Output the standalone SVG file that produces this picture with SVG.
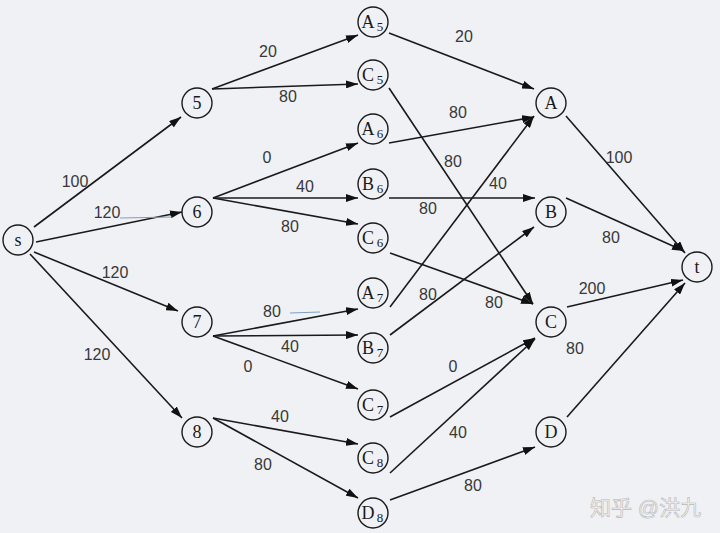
<svg xmlns="http://www.w3.org/2000/svg" width="720" height="533" viewBox="0 0 720 533">
<defs>
<marker id="arr" viewBox="0 0 12 8" refX="12" refY="4" markerWidth="12" markerHeight="8" markerUnits="userSpaceOnUse" orient="auto">
<path d="M0,0 L12,4 L0,8 Z" fill="#111"/>
</marker>
</defs>
<style>
.bg{fill:#eff1f5}
.edge{stroke:#1a1a1a;stroke-width:1.6;fill:none;marker-end:url(#arr)}
.node circle{fill:none;stroke:#1a1a1a;stroke-width:1.4}
.nl{font-family:"Liberation Serif",serif;font-size:18px;fill:#1a1a1a;text-anchor:middle}
.sub{font-family:"Liberation Serif",serif;font-size:13px;fill:#1a1a1a;text-anchor:middle}
.lbl{font-family:"Liberation Sans",Arial,sans-serif;font-size:16px;fill:#383838;text-anchor:middle}
.wm{font-family:"Liberation Sans","Noto Sans CJK SC",sans-serif;font-size:21px;fill:#f6f6f6;stroke:#b8b8b8;stroke-width:0.6}
.art{stroke:#7f9fbf;stroke-width:1;fill:none}
</style>
<rect class="bg" x="0" y="0" width="720" height="533"/>

<g id="connectors">
<line class="edge" x1="34" y1="227" x2="181" y2="117"/>
<line class="edge" x1="36" y1="242" x2="182" y2="212"/>
<line class="edge" x1="34" y1="252" x2="178" y2="311"/>
<line class="edge" x1="30" y1="254" x2="182" y2="418"/>
<line class="edge" x1="212" y1="89" x2="358" y2="35"/>
<line class="edge" x1="212" y1="89" x2="358" y2="84"/>
<line class="edge" x1="213" y1="198" x2="358" y2="143"/>
<line class="edge" x1="213" y1="198" x2="358" y2="198"/>
<line class="edge" x1="213" y1="198" x2="358" y2="224"/>
<line class="edge" x1="213" y1="336" x2="358" y2="309"/>
<line class="edge" x1="213" y1="336" x2="358" y2="335"/>
<line class="edge" x1="213" y1="336" x2="358" y2="389"/>
<line class="edge" x1="213" y1="418" x2="358" y2="444"/>
<line class="edge" x1="213" y1="418" x2="358" y2="498"/>
<line class="edge" x1="389" y1="33" x2="534" y2="89"/>
<line class="edge" x1="389" y1="88" x2="533" y2="304"/>
<line class="edge" x1="389" y1="143" x2="534" y2="117"/>
<line class="edge" x1="389" y1="198" x2="535" y2="198"/>
<line class="edge" x1="390" y1="253" x2="533" y2="304"/>
<line class="edge" x1="390" y1="307" x2="534" y2="116"/>
<line class="edge" x1="390" y1="335" x2="534" y2="227"/>
<line class="edge" x1="390" y1="417" x2="535" y2="338"/>
<line class="edge" x1="390" y1="473" x2="535" y2="339"/>
<line class="edge" x1="390" y1="500" x2="535" y2="447"/>
<line class="edge" x1="566" y1="116" x2="685" y2="253"/>
<line class="edge" x1="566" y1="198" x2="684" y2="251"/>
<line class="edge" x1="567" y1="307" x2="683" y2="280"/>
<line class="edge" x1="567" y1="417" x2="685" y2="283"/>
<line class="art" x1="120" y1="218" x2="172" y2="217"/>
<line class="art" x1="290" y1="313" x2="320" y2="312"/>
</g>

<g id="edge-labels">
<text class="lbl" x="75" y="187">100</text>
<text class="lbl" x="107" y="218">120</text>
<text class="lbl" x="115" y="278">120</text>
<text class="lbl" x="97" y="360">120</text>
<text class="lbl" x="268" y="57">20</text>
<text class="lbl" x="288" y="102">80</text>
<text class="lbl" x="267" y="163">0</text>
<text class="lbl" x="305" y="192">40</text>
<text class="lbl" x="290" y="232">80</text>
<text class="lbl" x="272" y="317">80</text>
<text class="lbl" x="290" y="352">40</text>
<text class="lbl" x="248" y="372">0</text>
<text class="lbl" x="280" y="422">40</text>
<text class="lbl" x="263" y="470">80</text>
<text class="lbl" x="464" y="42">20</text>
<text class="lbl" x="458" y="118">80</text>
<text class="lbl" x="453" y="167">80</text>
<text class="lbl" x="498" y="189">40</text>
<text class="lbl" x="428" y="214">80</text>
<text class="lbl" x="428" y="300">80</text>
<text class="lbl" x="494" y="308">80</text>
<text class="lbl" x="453" y="372">0</text>
<text class="lbl" x="458" y="438">40</text>
<text class="lbl" x="473" y="491">80</text>
<text class="lbl" x="619" y="163">100</text>
<text class="lbl" x="611" y="243">80</text>
<text class="lbl" x="592" y="294">200</text>
<text class="lbl" x="575" y="354">80</text>
</g>

<g id="n-s" class="node"><circle cx="18" cy="240" r="15"/><text class="nl" x="18" y="246">s</text></g>
<g id="n-5" class="node"><circle cx="197" cy="103" r="15"/><text class="nl" x="197" y="109">5</text></g>
<g id="n-6" class="node"><circle cx="197" cy="212" r="15"/><text class="nl" x="197" y="218">6</text></g>
<g id="n-7" class="node"><circle cx="197" cy="322" r="15"/><text class="nl" x="197" y="328">7</text></g>
<g id="n-8" class="node"><circle cx="197" cy="432" r="15"/><text class="nl" x="197" y="438">8</text></g>

<g id="n-A5" class="node"><circle cx="373" cy="22" r="15"/><text class="nl" x="368" y="28">A</text><text class="sub" x="380" y="31">5</text></g>
<g id="n-C5" class="node"><circle cx="373" cy="75" r="15"/><text class="nl" x="368" y="81">C</text><text class="sub" x="380" y="84">5</text></g>
<g id="n-A6" class="node"><circle cx="373" cy="129" r="15"/><text class="nl" x="368" y="135">A</text><text class="sub" x="380" y="138">6</text></g>
<g id="n-B6" class="node"><circle cx="373" cy="184" r="15"/><text class="nl" x="368" y="190">B</text><text class="sub" x="380" y="193">6</text></g>
<g id="n-C6" class="node"><circle cx="373" cy="238" r="15"/><text class="nl" x="368" y="244">C</text><text class="sub" x="380" y="247">6</text></g>
<g id="n-A7" class="node"><circle cx="373" cy="293" r="15"/><text class="nl" x="368" y="299">A</text><text class="sub" x="380" y="302">7</text></g>
<g id="n-B7" class="node"><circle cx="373" cy="348" r="15"/><text class="nl" x="368" y="354">B</text><text class="sub" x="380" y="357">7</text></g>
<g id="n-C7" class="node"><circle cx="373" cy="405" r="15"/><text class="nl" x="368" y="411">C</text><text class="sub" x="380" y="414">7</text></g>
<g id="n-C8" class="node"><circle cx="373" cy="458" r="15"/><text class="nl" x="368" y="464">C</text><text class="sub" x="380" y="467">8</text></g>
<g id="n-D8" class="node"><circle cx="373" cy="513" r="15"/><text class="nl" x="368" y="519">D</text><text class="sub" x="380" y="522">8</text></g>

<g id="n-A" class="node"><circle cx="551" cy="103" r="15"/><text class="nl" x="551" y="109">A</text></g>
<g id="n-B" class="node"><circle cx="551" cy="212" r="15"/><text class="nl" x="551" y="218">B</text></g>
<g id="n-C" class="node"><circle cx="551" cy="322" r="15"/><text class="nl" x="551" y="328">C</text></g>
<g id="n-D" class="node"><circle cx="551" cy="432" r="15"/><text class="nl" x="551" y="438">D</text></g>
<g id="n-t" class="node"><circle cx="697" cy="267" r="15"/><text class="nl" x="697" y="273">t</text></g>

<text class="wm" x="590" y="515">知乎 @洪九</text>
</svg>
